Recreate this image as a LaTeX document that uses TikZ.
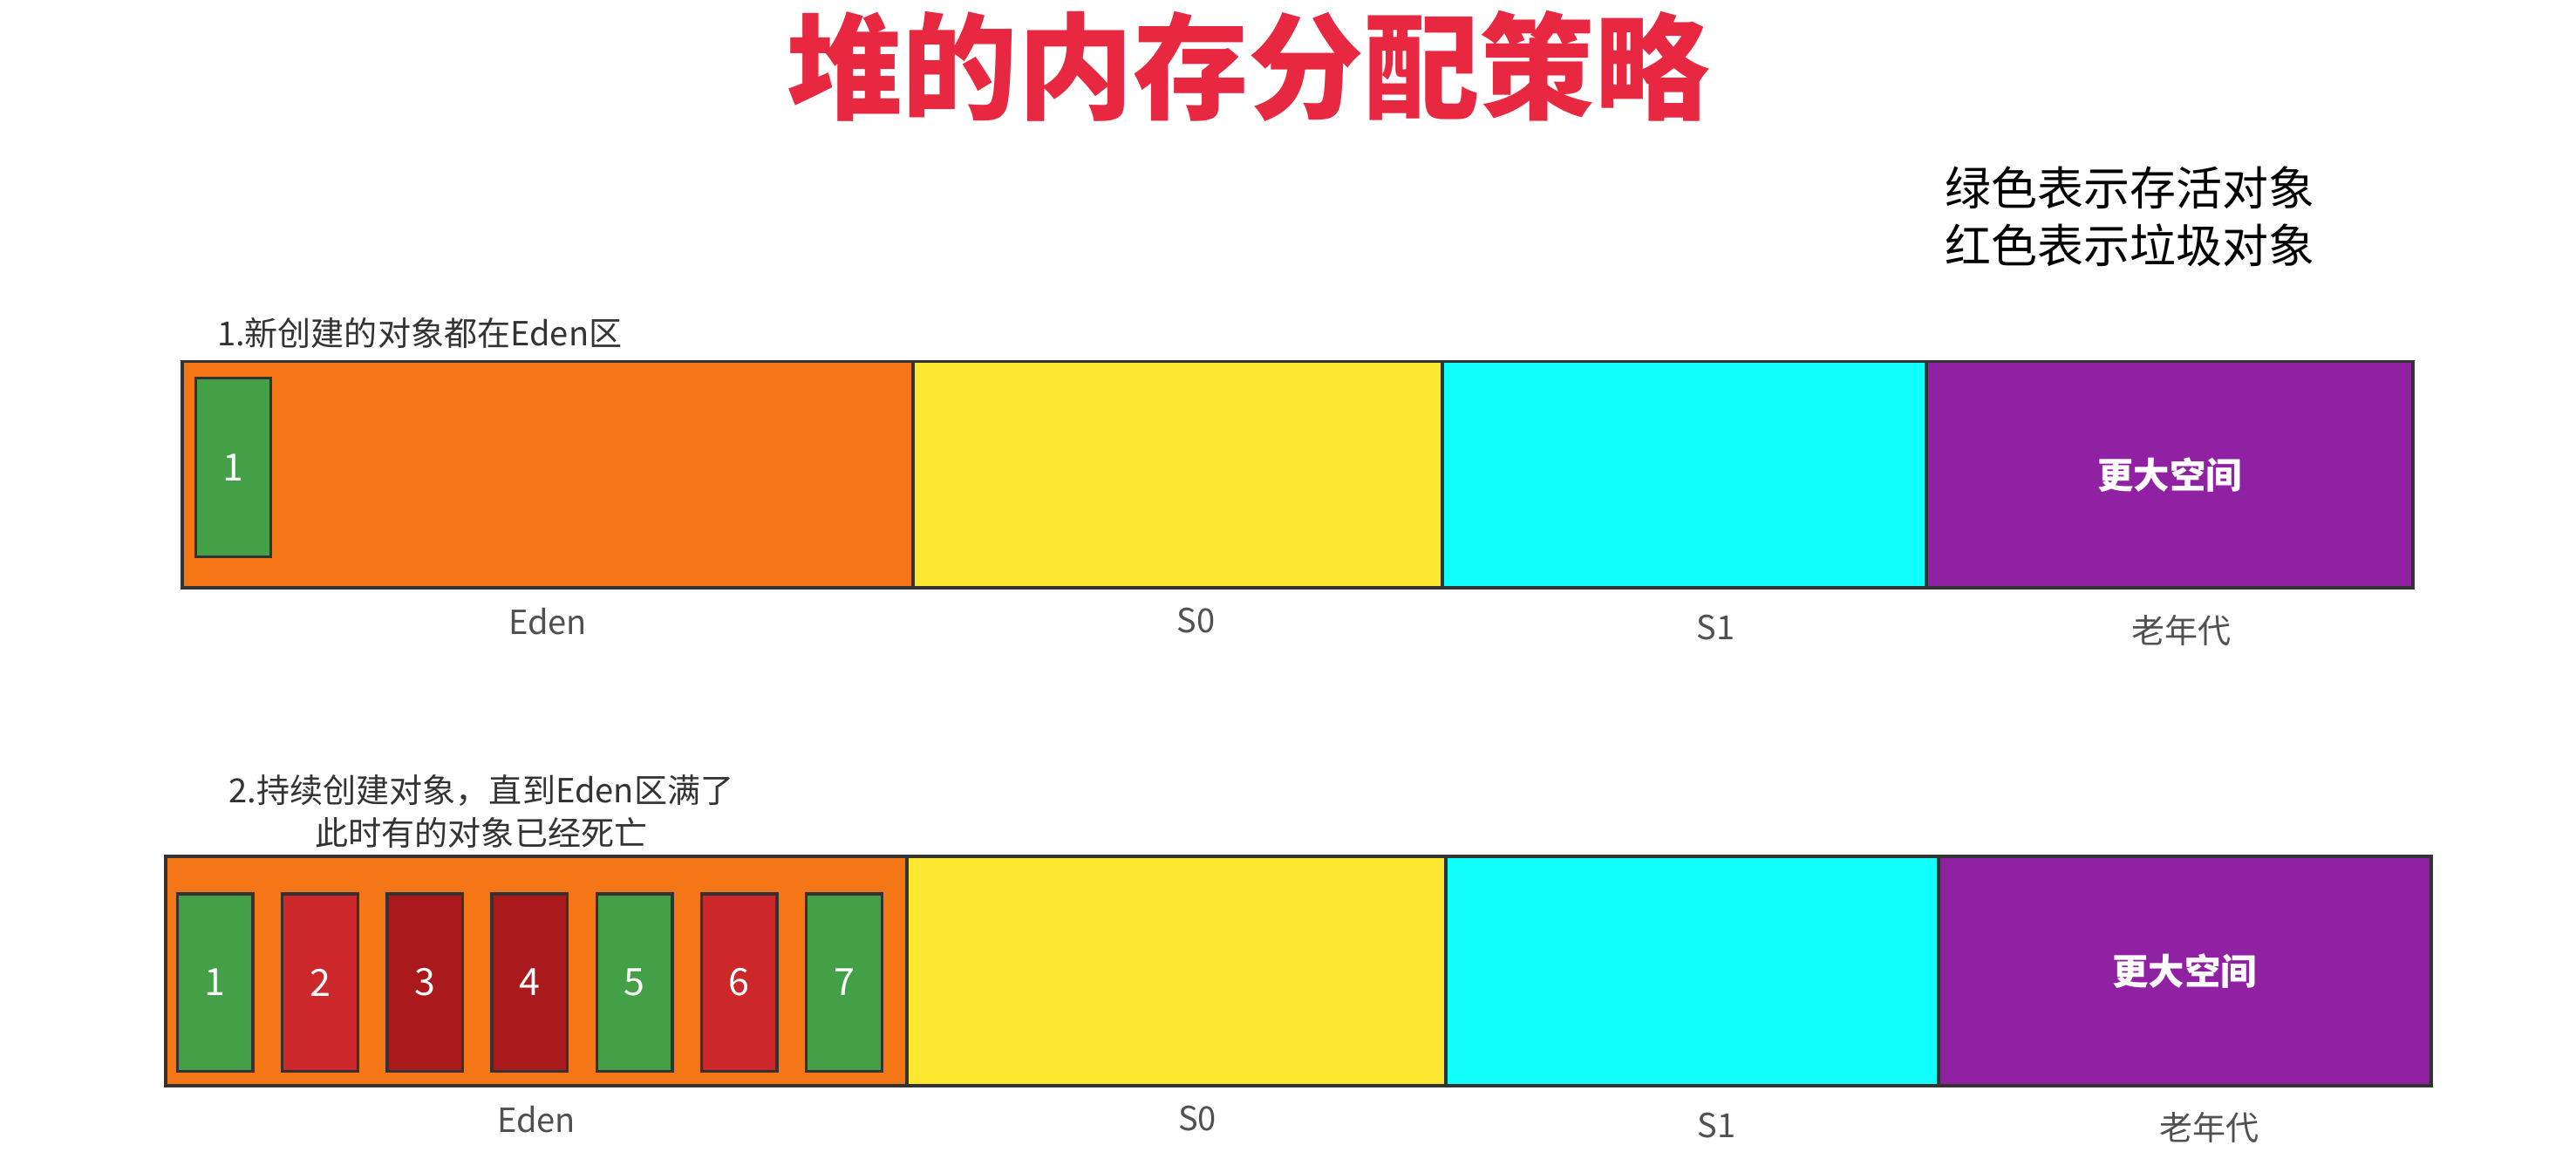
\documentclass[tikz,border=0pt]{standalone}
\usepackage{fontspec}
\setmainfont{Noto Sans CJK SC}
\usetikzlibrary{positioning}
\definecolor{edenor}{RGB}{245,118,22}
\definecolor{szero}{RGB}{253,231,49}
\definecolor{sone}{RGB}{16,255,250}
\definecolor{oldpu}{RGB}{145,33,163}
\definecolor{livegr}{RGB}{67,160,71}
\definecolor{deadrd}{RGB}{204,40,44}
\definecolor{deaddk}{RGB}{170,25,27}
\definecolor{titlerd}{RGB}{232,40,64}
\definecolor{capgr}{RGB}{80,80,80}

\begin{document}
\begin{tikzpicture}[
    x=0.02cm, y=-0.02cm,
    zone/.style    = {draw=black!80, line width=1.2pt, minimum height=2.76cm,
                      inner sep=0pt, outer sep=0pt},
    obj/.style     = {draw=black!80, line width=1pt, minimum width=0.92cm,
                      minimum height=2.18cm, inner sep=0pt, text=white,
                      font=\fontsize{13}{13}\selectfont},
    zonelbl/.style = {text=capgr, font=\fontsize{11.5}{14}\selectfont},
    note/.style    = {text=black!80, font=\fontsize{11.5}{14.7}\selectfont, align=center},
    big/.style     = {text=white, font=\fontsize{12.5}{14}\selectfont\bfseries},
  ]
    \useasboundingbox (0,0) rectangle (1568,701);

    \node[text=titlerd, font=\fontsize{40}{40}\selectfont\bfseries] (title) at (760,40)
      {堆的内存分配策略};
    \node[anchor=west, align=left, font=\fontsize{16}{19.9}\selectfont] (legend) at (1178,132)
      {绿色表示存活对象\\红色表示垃圾对象};

    % step 1
    \node[note, anchor=west] (step1) at (126,203) {1.新创建的对象都在Eden区};
    \node[zone, fill=edenor, minimum width=8.9cm, anchor=west] (eden1) at (111,289) {};
    \node[zone, fill=szero, minimum width=6.44cm, right=0pt of eden1] (sz1) {};
    \node[zone, fill=sone, minimum width=5.9cm, right=0pt of sz1] (so1) {};
    \node[zone, fill=oldpu, minimum width=5.92cm, right=0pt of so1, big] (old1) {更大空间};
    \node[obj, fill=livegr] (ob1) at (142,284.5) {1};
    \node[zonelbl, below=0.12cm of eden1] (edenlbl1) {Eden};
    \node[zonelbl, below=0.12cm of sz1, xshift=0.22cm] (szlbl1) {S0};
    \node[zonelbl, below=0.2cm of so1, xshift=0.38cm] (solbl1) {S1};
    \node[zonelbl, below=0.2cm of old1, xshift=0.14cm] (oldlbl1) {老年代};

    % step 2
    \node[note] (step2) at (293,494) {2.持续创建对象，直到Eden区满了\\此时有的对象已经死亡};
    \node[zone, fill=edenor, minimum width=9.02cm, minimum height=2.8cm, anchor=west] (eden2) at (101,591) {};
    \node[zone, fill=szero, minimum width=6.56cm, minimum height=2.8cm, right=0pt of eden2] (sz2) {};
    \node[zone, fill=sone, minimum width=6cm, minimum height=2.8cm, right=0pt of sz2] (so2) {};
    \node[zone, fill=oldpu, minimum width=6cm, minimum height=2.8cm, right=0pt of so2, big] (old2) {更大空间};
    \foreach \i/\c in {1/livegr, 2/deadrd, 3/deaddk, 4/deaddk, 5/livegr, 6/deadrd, 7/livegr}
      \node[obj, fill=\c, minimum height=2.16cm] (obj\i) at ({131+(\i-1)*63.8},598) {\i};
    \node[zonelbl, below=0.12cm of eden2] (edenlbl2) {Eden};
    \node[zonelbl, below=0.12cm of sz2, xshift=0.26cm] (szlbl2) {S0};
    \node[zonelbl, below=0.2cm of so2, xshift=0.3cm] (solbl2) {S1};
    \node[zonelbl, below=0.2cm of old2, xshift=0.3cm] (oldlbl2) {老年代};
\end{tikzpicture}
\end{document}
